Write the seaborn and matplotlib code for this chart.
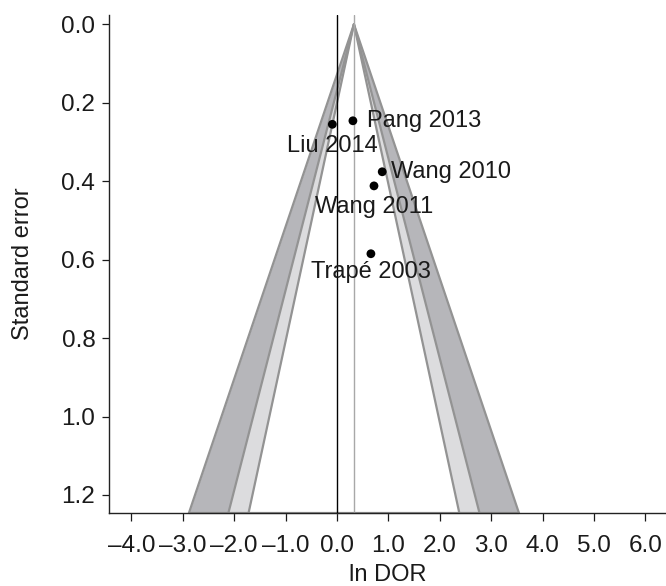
import numpy as np
import pandas as pd
import matplotlib
matplotlib.use("Agg")
import matplotlib.pyplot as plt
import seaborn as sns

# data
studies = ["Pang 2013", "Liu 2014", "Wang 2010", "Wang 2011", "Trapé 2003"]
ln_dor = [0.31, -0.09, 0.88, 0.72, 0.66]
se = [0.246, 0.255, 0.376, 0.412, 0.585]
pooled = 0.33
se_max = 1.246
z_levels = [2.576, 1.96, 1.645]   # 99%, 95%, 90% contours

df = pd.DataFrame({"study": studies, "ln_dor": ln_dor, "se": se})

sns.set_style("ticks")
plt.rcParams["font.family"] = ["Liberation Sans", "DejaVu Sans"]

fig = plt.figure(figsize=(6.66, 5.86), dpi=100)
ax = fig.add_axes([0.164, 0.1246, 0.836, 0.850])

se_line = np.array([0.0, se_max])
z99, z95, z90 = z_levels
band_dark = "#b6b6ba"
band_light = "#dcdcde"
edge = "#939393"

# shaded bands between contours
for zo, zi, col in [(z99, z95, band_dark), (z95, z90, band_light)]:
    ax.fill_betweenx(se_line, pooled - zo * se_line, pooled - zi * se_line,
                     color=col, lw=0, zorder=1)
    ax.fill_betweenx(se_line, pooled + zi * se_line, pooled + zo * se_line,
                     color=col, lw=0, zorder=1)

for z in z_levels:
    for sgn in (-1, 1):
        sns.lineplot(x=pooled + sgn * z * se_line, y=se_line, ax=ax,
                     color=edge, lw=1.6, sort=False, zorder=2)
ax.plot([pooled - z99 * se_max, pooled + z99 * se_max], [se_max, se_max],
        color=edge, lw=1.6, zorder=2, clip_on=False)

ax.axvline(pooled, color="#a8a8a8", lw=1.0, zorder=2)
ax.axvline(0, color="black", lw=1.0, zorder=3)

sns.scatterplot(data=df, x="ln_dor", y="se", color="black", s=40,
                edgecolor="none", ax=ax, zorder=4)

# label placement: (dx, dy in points, ha, va)
offsets = {
    "Pang 2013": (10, 0, "left", "center"),
    "Liu 2014": (0, -8, "center", "top"),
    "Wang 2010": (6, 0, "left", "center"),
    "Wang 2011": (0, -7, "center", "top"),
    "Trapé 2003": (0, -5, "center", "top"),
}
for _, r in df.iterrows():
    dx, dy, ha, va = offsets[r["study"]]
    ax.annotate(r["study"], (r["ln_dor"], r["se"]), xytext=(dx, dy),
                textcoords="offset points", ha=ha, va=va, fontsize=17,
                color="#1a1a1a", zorder=5)

ax.set_xlim(-4.43, 6.4)
ax.set_ylim(se_max, -0.024)
ax.set_xticks(np.arange(-4, 7, 1.0))
ax.set_xticklabels([f"{v:.1f}".replace("-", "\u2013") for v in np.arange(-4, 7, 1.0)])
ax.set_yticks(np.arange(0, 1.21, 0.2))
ax.set_yticklabels([f"{v:.1f}" for v in np.arange(0, 1.21, 0.2)])
ax.tick_params(labelsize=17.5, width=0.9, colors="#1a1a1a")
ax.tick_params(axis="x", length=6, pad=10)
ax.tick_params(axis="y", length=5, pad=5)
ax.set_xlabel("ln DOR", fontsize=17, color="#1a1a1a", labelpad=5)
ax.set_ylabel("Standard error", fontsize=17, color="#1a1a1a", labelpad=20)
sns.despine(ax=ax)
for sp in ax.spines.values():
    sp.set_linewidth(1.0)
    sp.set_color("#222222")

fig.savefig("out.png", dpi=100)
